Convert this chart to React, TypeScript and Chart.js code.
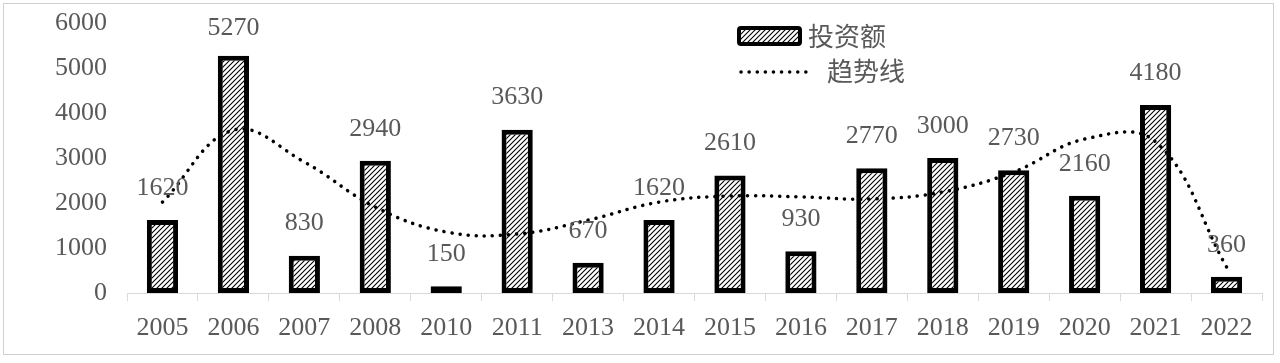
import React, { useEffect, useRef } from "react";
import { Chart, registerables } from "chart.js";

Chart.register(...registerables);

const categories = ["2005", "2006", "2007", "2008", "2010", "2011", "2013", "2014", "2015", "2016", "2017", "2018", "2019", "2020", "2021", "2022"];
const investment = [1620, 5270, 830, 2940, 150, 3630, 670, 1620, 2610, 930, 2770, 3000, 2730, 2160, 4180, 360];
const trend = [2020, 3620, 2910, 1910, 1355, 1310, 1620, 2020, 2155, 2135, 2090, 2245, 2690, 3420, 3360, 580];
const yMin = 0;
const yMax = 6000;
const yStep = 1000;
const seriesNames = ["投资额", "趋势线"];

const GRAY = "#595959";
const AXIS = "#d9d9d9";
const SERIF = '"Liberation Serif", "Times New Roman", serif';
const CJK = '"Noto Sans CJK SC", "Noto Sans", sans-serif';

function makeHatch(ctx: CanvasRenderingContext2D): CanvasPattern | string {
  const s = 5;
  const c = document.createElement("canvas");
  c.width = s;
  c.height = s;
  const g = c.getContext("2d");
  if (!g) return "#888";
  g.fillStyle = "#fff";
  g.fillRect(0, 0, s, s);
  g.strokeStyle = "#000";
  g.lineWidth = 1.1;
  g.beginPath();
  g.moveTo(-1, s + 1);
  g.lineTo(s + 1, -1);
  g.moveTo(-1, 1);
  g.lineTo(1, -1);
  g.moveTo(s - 1, s + 1);
  g.lineTo(s + 1, s - 1);
  g.stroke();
  return ctx.createPattern(c, "repeat") || "#888";
}

export default function App() {
  const ref = useRef<HTMLCanvasElement | null>(null);

  useEffect(() => {
    const canvas = ref.current;
    if (!canvas) return;
    const ctx = canvas.getContext("2d");
    if (!ctx) return;
    const hatch = makeHatch(ctx);

    const labelPlugin = {
      id: "barLabels",
      afterDatasetsDraw(chart: any) {
        const meta = chart.getDatasetMeta(0);
        const c = chart.ctx;
        c.save();
        c.fillStyle = GRAY;
        c.font = `26px ${SERIF}`;
        c.textAlign = "center";
        c.textBaseline = "middle";
        meta.data.forEach((el: any, i: number) => {
          const y = Math.max(el.y - 32, 28);
          c.fillText(String(investment[i]), el.x, y);
        });
        c.restore();
      },
    };

    const legendPlugin = {
      id: "customLegend",
      afterDraw(chart: any) {
        const c = chart.ctx;
        c.save();
        c.beginPath();
        (c as any).roundRect(739, 28, 61, 16, 2);
        c.fillStyle = hatch;
        c.fill();
        c.lineWidth = 4;
        c.strokeStyle = "#000";
        c.stroke();
        c.fillStyle = GRAY;
        c.font = `26px ${CJK}`;
        c.textAlign = "left";
        c.textBaseline = "middle";
        c.fillText(seriesNames[0], 808, 36);
        c.beginPath();
        c.setLineDash([0.1, 8]);
        c.lineCap = "round";
        c.lineWidth = 3.5;
        c.moveTo(741, 72);
        c.lineTo(812, 72);
        c.stroke();
        c.setLineDash([]);
        c.fillText(seriesNames[1], 827, 71);
        c.restore();
      },
    };

    const chart = new Chart(canvas, {
      data: {
        labels: categories,
        datasets: [
          {
            type: "bar",
            label: seriesNames[0],
            data: investment,
            backgroundColor: hatch as any,
            borderColor: "#000",
            borderWidth: 5,
            borderSkipped: false,
            barPercentage: 0.44,
            categoryPercentage: 1,
            order: 2,
          },
          {
            type: "line",
            label: seriesNames[1],
            data: trend,
            borderColor: "#000",
            borderWidth: 3.5,
            borderDash: [0.1, 8],
            borderCapStyle: "round",
            tension: 0.4,
            pointRadius: 0,
            fill: false,
            order: 1,
          },
        ],
      } as any,
      options: {
        responsive: false,
        animation: false,
        layout: { padding: { top: 23, right: 18, left: 0, bottom: 0 } },
        plugins: {
          legend: { display: false },
          tooltip: { enabled: false },
        },
        scales: {
          x: {
            grid: {
              display: true,
              drawOnChartArea: false,
              drawTicks: true,
              tickLength: 8,
              color: AXIS,
              offset: true,
            },
            border: { display: true, color: AXIS, width: 1 },
            ticks: {
              color: GRAY,
              font: { family: SERIF, size: 26 },
              padding: 12,
              maxRotation: 0,
              autoSkip: false,
            },
            afterFit(scale: any) {
              scale.height = 70;
            },
          },
          y: {
            min: yMin,
            max: yMax,
            grid: { display: false, drawTicks: false },
            border: { display: false },
            ticks: {
              stepSize: yStep,
              color: GRAY,
              font: { family: SERIF, size: 26 },
              padding: 20,
              callback: (v: any) => String(v),
            },
            afterFit(scale: any) {
              scale.width = 127;
              scale.paddingTop = 0;
              scale.paddingBottom = 0;
            },
          },
        },
      } as any,
      plugins: [labelPlugin, legendPlugin],
    });

    return () => chart.destroy();
  }, []);

  return (
    <div style={{ position: "fixed", left: 0, top: 0, width: 1280, height: 363, background: "#fff" }}>
      <div
        style={{
          position: "absolute",
          left: 3,
          top: 3,
          width: 1271,
          height: 352,
          border: "1px solid #d0d0d0",
          boxSizing: "border-box",
        }}
      />
      <canvas ref={ref} width={1280} height={363} style={{ position: "absolute", left: 0, top: 0 }} />
    </div>
  );
}
